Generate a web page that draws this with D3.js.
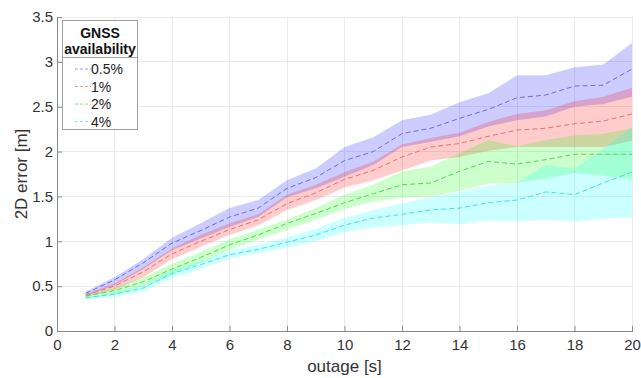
<!DOCTYPE html>
<html><head><meta charset="utf-8">
<script src="https://cdn.jsdelivr.net/npm/d3@7"></script>
<style>body{margin:0;background:#fff;}svg{display:block;font-family:"Liberation Sans",Arial,sans-serif;}</style>
</head><body>
<svg id="c" width="641" height="378"></svg>
<script>
const outage = [1,2,3,4,5,6,7,8,9,10,11,12,13,14,15,16,17,18,19,20];
const seriesNames = ["0.5%","1%","2%","4%"];
const seriesColors = ["#0000ff","#ff0000","#00ff00","#00ffff"];
const lineColors = ["#6a6af2","#f07070","#4fdc4f","#3fe0ea"];
const xTicks = [0,2,4,6,8,10,12,14,16,18,20];
const yTicks = [0,0.5,1,1.5,2,2.5,3,3.5];

const mean05 = [0.42,0.57,0.76,0.98,1.12,1.27,1.37,1.59,1.71,1.90,2.00,2.20,2.26,2.37,2.47,2.60,2.63,2.73,2.74,2.92];
const up05   = [0.44,0.60,0.80,1.04,1.20,1.37,1.46,1.68,1.81,2.05,2.16,2.35,2.41,2.55,2.65,2.85,2.85,2.94,2.97,3.21];
const lo05   = [0.39,0.51,0.69,0.90,1.03,1.16,1.27,1.49,1.59,1.72,1.85,2.05,2.11,2.17,2.28,2.35,2.39,2.50,2.53,2.61];

const mean1 = [0.40,0.50,0.66,0.86,1.00,1.13,1.24,1.42,1.54,1.69,1.79,1.94,2.05,2.09,2.17,2.24,2.26,2.31,2.34,2.42];
const up1   = [0.41,0.53,0.71,0.92,1.07,1.20,1.30,1.52,1.63,1.77,1.89,2.08,2.15,2.21,2.33,2.42,2.46,2.56,2.61,2.71];
const lo1   = [0.38,0.46,0.60,0.80,0.94,1.07,1.18,1.35,1.46,1.60,1.68,1.79,1.90,1.94,2.01,2.05,2.05,2.05,2.05,2.12];

const mean2 = [0.39,0.45,0.55,0.69,0.82,0.96,1.07,1.20,1.31,1.43,1.53,1.63,1.65,1.78,1.89,1.86,1.91,1.97,1.97,1.97];
const up2   = [0.40,0.48,0.60,0.75,0.88,1.02,1.13,1.24,1.37,1.52,1.63,1.78,1.83,1.98,2.13,2.06,2.13,2.18,2.20,2.26];
const lo2   = [0.37,0.41,0.50,0.63,0.76,0.90,1.02,1.13,1.24,1.36,1.44,1.49,1.50,1.56,1.64,1.65,1.70,1.76,1.73,1.69];

const mean4 = [0.37,0.41,0.48,0.64,0.74,0.85,0.91,0.99,1.07,1.18,1.26,1.30,1.35,1.37,1.43,1.46,1.55,1.52,1.65,1.77];
const up4   = [0.38,0.43,0.51,0.68,0.78,0.89,0.96,1.04,1.14,1.26,1.35,1.42,1.49,1.55,1.62,1.65,1.85,1.81,2.03,2.27];
const lo4   = [0.35,0.38,0.44,0.59,0.69,0.81,0.87,0.93,1.00,1.10,1.15,1.18,1.21,1.19,1.23,1.22,1.24,1.22,1.25,1.27];

const means = [mean05, mean1, mean2, mean4];
const uppers = [up05, up1, up2, up4];
const lowers = [lo05, lo1, lo2, lo4];

const svg = d3.select("#c");
const L = 57, R = 632, T = 17, B = 331;
const x = d3.scaleLinear().domain([0,20]).range([L,R]);
const y = d3.scaleLinear().domain([0,3.5]).range([B,T]);

// grid
const g = svg.append("g");
g.selectAll(".gx").data(xTicks.slice(1)).enter().append("line")
  .attr("x1",d=>x(d)).attr("x2",d=>x(d)).attr("y1",B).attr("y2",T)
  .attr("stroke","#ebebeb").attr("stroke-width",1).attr("shape-rendering","crispEdges");
g.selectAll(".gy").data(yTicks.slice(1)).enter().append("line")
  .attr("x1",L).attr("x2",R).attr("y1",d=>y(d)).attr("y2",d=>y(d))
  .attr("stroke","#ebebeb").attr("stroke-width",1).attr("shape-rendering","crispEdges");

// bands
const area = d3.area().x((d,i)=>x(outage[i])).y0(d=>y(d[0])).y1(d=>y(d[1]));
for (let s=0;s<4;s++){
  const pts = outage.map((t,i)=>[lowers[s][i], uppers[s][i]]);
  svg.append("path").attr("d", area(pts)).attr("fill", seriesColors[s]).attr("fill-opacity",0.2).attr("stroke","none");
}
// lines
const line = d3.line().x((d,i)=>x(outage[i])).y(d=>y(d));
for (let s=0;s<4;s++){
  svg.append("path").attr("d", line(means[s])).attr("fill","none")
    .attr("stroke", lineColors[s]).attr("stroke-width",1).attr("stroke-dasharray","5,3");
}

// axes
const xAxis = d3.axisBottom(x).tickValues(xTicks).tickSize(-5).tickPadding(8).tickFormat(d3.format("d"));
const yAxis = d3.axisLeft(y).tickValues(yTicks).tickSize(-5).tickPadding(4).tickFormat(d=>String(d));
const ax = svg.append("g").attr("transform",`translate(0,${B})`).call(xAxis);
const ay = svg.append("g").attr("transform",`translate(${L},0)`).call(yAxis);
[ax,ay].forEach(a=>{
  a.select(".domain").attr("stroke","#8a8a8a").attr("shape-rendering","crispEdges");
  a.selectAll(".tick line").attr("stroke","#8a8a8a");
  a.selectAll("text").attr("fill","#333").style("font-size","15px").style("font-family","'Liberation Sans',Arial,sans-serif");
});
ay.select(".tick:first-of-type line").remove();

svg.append("text").attr("x",(L+R)/2).attr("y",372).attr("text-anchor","middle")
  .attr("fill","#333").style("font-size","17px").text("outage [s]");
svg.append("text").attr("transform",`translate(27,${(T+B)/2}) rotate(-90)`).attr("text-anchor","middle")
  .attr("fill","#333").style("font-size","17px").text("2D error [m]");

// legend
const lg = svg.append("g");
lg.append("rect").attr("x",62.5).attr("y",20.5).attr("width",75).attr("height",109)
  .attr("fill","#fff").attr("stroke","#a0a0a0").attr("stroke-width",1);
lg.append("line").attr("x1",62.5).attr("x2",137.5).attr("y1",57.5).attr("y2",57.5).attr("stroke","#a0a0a0");
lg.append("text").attr("x",100).attr("y",38).attr("text-anchor","middle").attr("font-weight","bold")
  .attr("fill","#111").style("font-size","14px").text("GNSS");
lg.append("text").attr("x",100).attr("y",54).attr("text-anchor","middle").attr("font-weight","bold")
  .attr("fill","#111").style("font-size","14px").text("availability");
seriesNames.forEach((n,i)=>{
  const yy = 69 + i*17.5;
  lg.append("line").attr("x1",75).attr("x2",91).attr("y1",yy).attr("y2",yy)
    .attr("stroke",lineColors[i]).attr("stroke-opacity",0.7).attr("stroke-dasharray","3,2");
  lg.append("text").attr("x",91).attr("y",yy+5).attr("fill","#222").style("font-size","14px").text(n);
});
</script>
</body></html>
